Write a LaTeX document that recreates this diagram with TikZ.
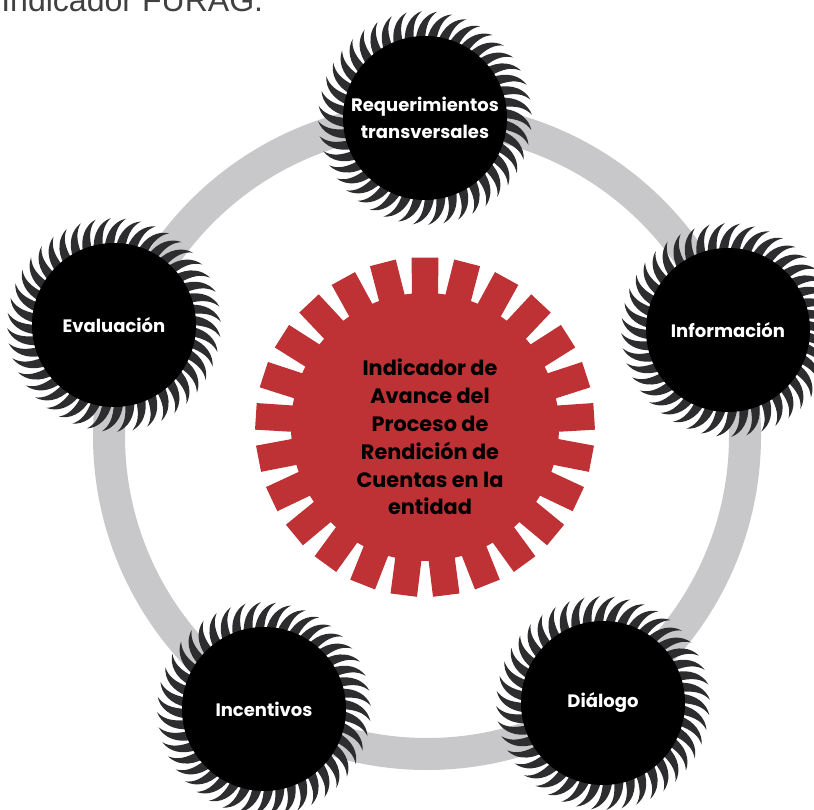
\documentclass[tikz,border=0pt]{standalone}
\usepackage{fontspec}
\setmainfont{Poppins}
\newfontfamily\headfont{Liberation Sans}
\definecolor{gearred}{RGB}{190,50,54}
\definecolor{ringgray}{RGB}{200,200,202}
\definecolor{teethgray}{RGB}{45,45,48}

\begin{document}
\begin{tikzpicture}[x=0.025cm, y=0.025cm]
    \useasboundingbox (0,0) rectangle (814,809);
    %\draw [very thin,gray,dashed] (0,0) grid[step=100] (814,809);
    \node[anchor=base west, inner sep=0, text=black!75, font=\headfont\fontsize{22.8}{26}\selectfont] (furag) at (1,797) {Indicador FURAG.};
    \draw [ringgray, line width=0.8cm] (427,373) circle (318);
    \foreach \x/\y/\n/\t in {425/691/req/{Requerimientos\\transversales}, 728/479/info/{Información}, 603/106/dialogo/{Diálogo}, 264/100/incent/{Incentivos}, 114/484/eval/{Evaluación}} {
        \begin{scope}[shift={(\x,\y)}]
            \foreach \k in {0,...,43} {
                \pgfmathsetmacro{\a}{\k*360/44}
                \fill [teethgray] (\a:78) .. controls (\a-0.5:93) and (\a-2.5:101) .. (\a-6.5:107) .. controls (\a-0.5:104) and (\a+5:94) .. (\a+6.8:78) -- cycle;
            }
            \fill [black] (0,0) circle (82);
        \end{scope}
        \node[align=center, text=white, font=\bfseries\fontsize{12.8}{19.5}\selectfont] (\n) at (\x,\y) {\t};
    }
    \begin{scope}[shift={(425,382)}]
        \fill [gearred] (0,0) circle (134);
        \foreach \i in {0,...,24} {
            \fill [gearred] (\i*14.4+90-5.8:130) -- (\i*14.4+90-4.5:170) -- (\i*14.4+90+4.5:170) -- (\i*14.4+90+5.8:130) -- cycle;
        }
    \end{scope}
    \node[align=center, font=\bfseries\fontsize{14.8}{19.8}\selectfont] (indicador) at (430,372) {Indicador de\\Avance del\\Proceso de\\Rendición de\\Cuentas en la\\entidad};
\end{tikzpicture}
\end{document}
